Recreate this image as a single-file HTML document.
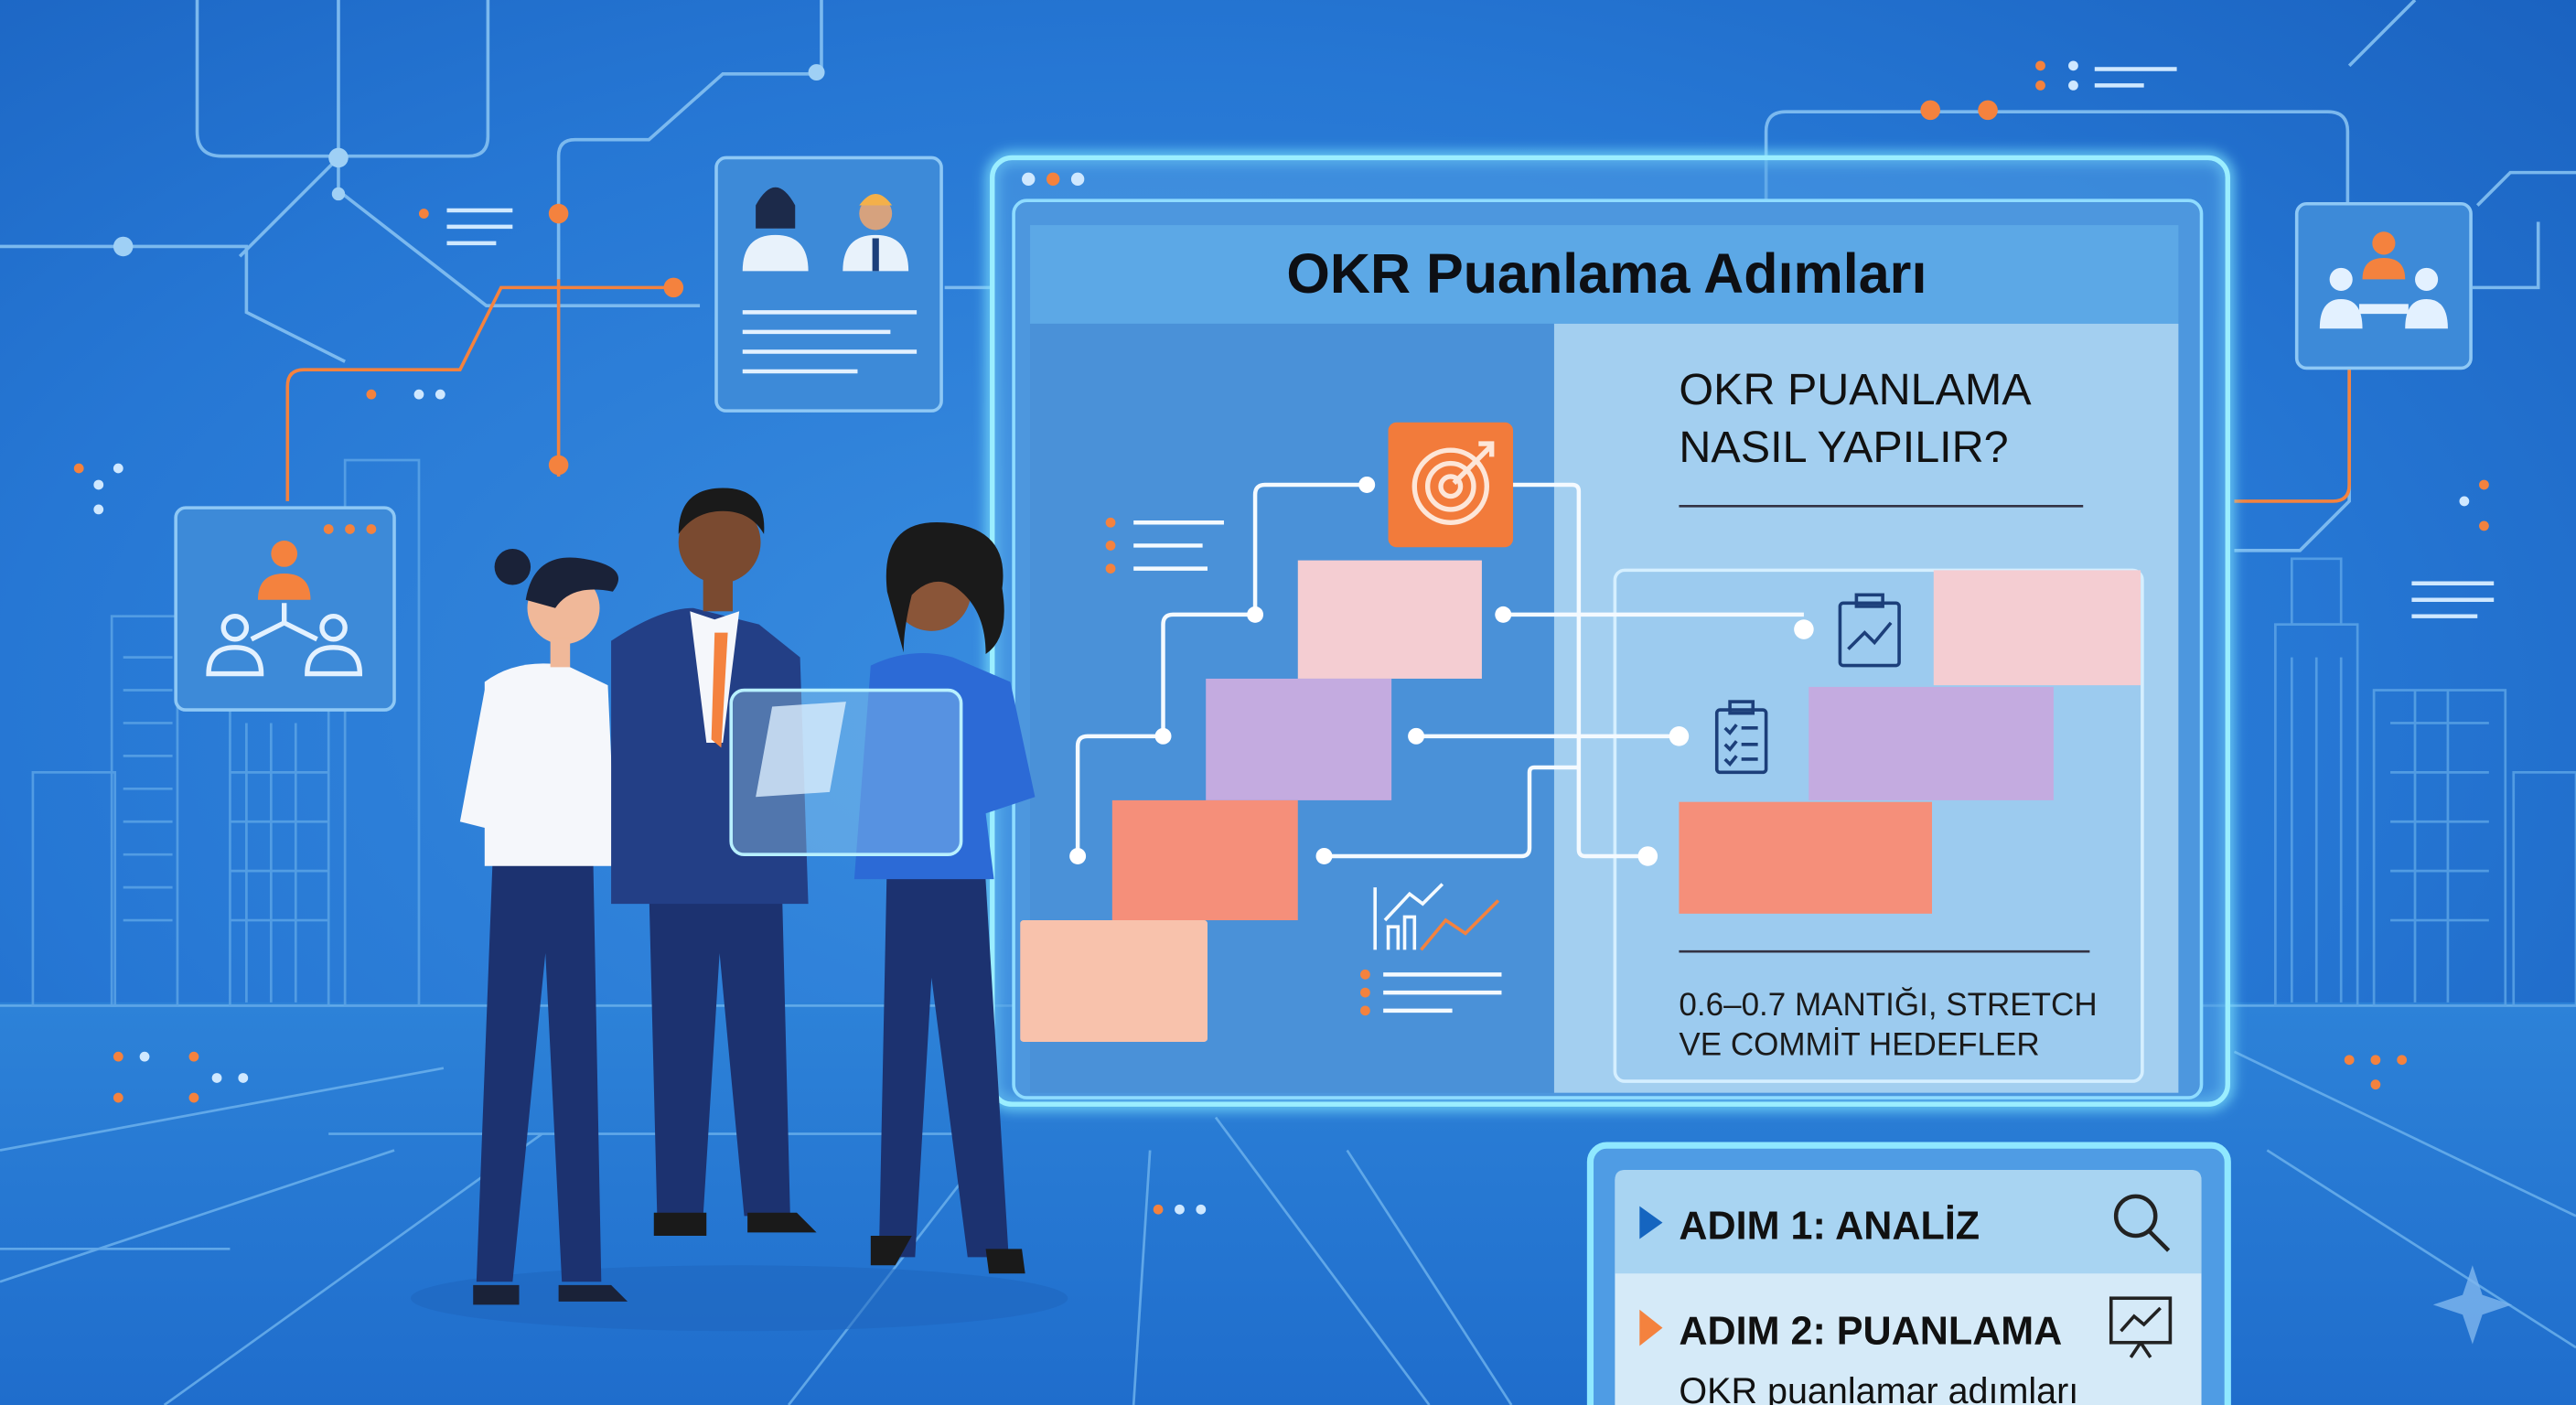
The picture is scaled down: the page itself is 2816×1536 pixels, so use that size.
<!DOCTYPE html>
<html><head><meta charset="utf-8"><style>
html,body{margin:0;padding:0;width:2816px;height:1536px;overflow:hidden;background:#1f6cc9}
svg{display:block}
text{font-family:"Liberation Sans",sans-serif}
</style></head><body>
<svg width="2816" height="1536" viewBox="0 0 1568 855" preserveAspectRatio="none" xmlns="http://www.w3.org/2000/svg">
<defs>
<radialGradient id="bg" cx="0.45" cy="0.5" r="0.75">
<stop offset="0" stop-color="#3a8ee0"/><stop offset="0.6" stop-color="#2677d4"/><stop offset="1" stop-color="#1a62c0"/>
</radialGradient>
<linearGradient id="floor" x1="0" y1="0" x2="0" y2="1"><stop offset="0" stop-color="#2d82d8"/><stop offset="1" stop-color="#1f6dcc"/></linearGradient>
<filter id="glow" x="-10%" y="-10%" width="120%" height="120%"><feGaussianBlur stdDeviation="4"/></filter>
</defs>
<rect width="1568" height="855" fill="url(#bg)"/>
<rect y="610" width="1568" height="245" fill="url(#floor)"/>
<!-- floor perspective -->
<g stroke="#6fb4ee" stroke-width="1.5" fill="none" opacity="0.8">
<line x1="0" y1="612" x2="1568" y2="612"/>
<line x1="600" y1="700" x2="480" y2="855"/><line x1="700" y1="700" x2="690" y2="855"/>
<line x1="0" y1="780" x2="240" y2="700"/><line x1="100" y1="855" x2="330" y2="690"/>
<line x1="0" y1="700" x2="270" y2="650"/><line x1="820" y1="700" x2="920" y2="855"/>
<line x1="1360" y1="640" x2="1568" y2="740"/><line x1="1380" y1="700" x2="1568" y2="820"/>
<line x1="740" y1="680" x2="870" y2="855"/><line x1="200" y1="690" x2="600" y2="690"/>
<line x1="0" y1="760" x2="140" y2="760"/>
</g>
<!-- buildings -->
<g stroke="#5aa3e6" stroke-width="1.5" fill="none" opacity="0.85">
<rect x="68" y="375" width="40" height="237"/><rect x="140" y="420" width="60" height="192"/>
<rect x="210" y="280" width="45" height="332"/><rect x="20" y="470" width="50" height="142"/>
<path d="M75 400h30M75 420h30M75 440h30M75 460h30M75 480h30M75 500h30M75 520h30M75 540h30M75 560h30"/>
<path d="M150 440v170M165 440v170M180 440v170M140 470h60M140 500h60M140 530h60M140 560h60"/>
<rect x="1385" y="380" width="50" height="232"/><rect x="1395" y="340" width="30" height="40"/>
<rect x="1445" y="420" width="80" height="192"/><rect x="1530" y="470" width="38" height="142"/>
<path d="M1395 400v210M1410 400v210M1425 400v210M1455 440h60M1455 470h60M1455 500h60M1455 530h60M1455 560h60M1470 420v190M1490 420v190"/>
</g>
<!-- circuit lines -->
<g stroke="#85c1f2" stroke-width="2" fill="none" opacity="0.9">
<path d="M120 0v80q0 15 15 15h150q12 0 12-12V0"/>
<path d="M0 150h150v40l60 30"/><path d="M206 0v96l-60 60M206 96v20l90 70h130"/>
<path d="M340 170V95q0-10 10-10h45l45-40h60V0"/><path d="M575 175h30"/>
<path d="M1075 130V80q0-12 12-12h330q12 0 12 12v60"/><path d="M1505 175h40v-40M1430 225v80l-30 30h-40"/>
<path d="M1568 105h-40l-20 20"/><path d="M1470 0l-40 40"/>
</g>
<g stroke="#f4823e" stroke-width="2" fill="none">
<path d="M175 305V235q0-10 10-10h95l25-50h105"/><path d="M340 170V290"/><path d="M1360 305h60q10 0 10-10v-70"/>
</g>
<g fill="#f4823e"><circle cx="340" cy="130" r="6"/><circle cx="410" cy="175" r="6"/><circle cx="340" cy="283" r="6"/><circle cx="1175" cy="67" r="6"/><circle cx="1210" cy="67" r="6"/></g>
<g fill="#9fd0f5"><circle cx="206" cy="96" r="6"/><circle cx="206" cy="118" r="4"/><circle cx="75" cy="150" r="6"/><circle cx="497" cy="44" r="5"/></g>
<!-- small dot decorations -->
<g fill="#f4823e"><circle cx="258" cy="130" r="3"/><circle cx="226" cy="240" r="3"/><circle cx="48" cy="285" r="3"/><circle cx="72" cy="643" r="3"/><circle cx="118" cy="643" r="3"/><circle cx="72" cy="668" r="3"/><circle cx="118" cy="668" r="3"/><circle cx="705" cy="736" r="3"/><circle cx="1242" cy="40" r="3"/><circle cx="1242" cy="52" r="3"/><circle cx="1430" cy="645" r="3"/><circle cx="1446" cy="645" r="3"/><circle cx="1462" cy="645" r="3"/><circle cx="1446" cy="660" r="3"/><circle cx="1512" cy="295" r="3"/><circle cx="1512" cy="320" r="3"/></g>
<g fill="#cfe8ff"><circle cx="255" cy="240" r="3"/><circle cx="268" cy="240" r="3"/><circle cx="88" cy="643" r="3"/><circle cx="132" cy="656" r="3"/><circle cx="148" cy="656" r="3"/><circle cx="60" cy="295" r="3"/><circle cx="72" cy="285" r="3"/><circle cx="60" cy="310" r="3"/><circle cx="1262" cy="40" r="3"/><circle cx="1262" cy="52" r="3"/><circle cx="1500" cy="305" r="3"/><circle cx="718" cy="736" r="3"/><circle cx="731" cy="736" r="3"/></g>
<g stroke="#cfe8ff" stroke-width="2.5"><path d="M272 128h40M272 138h40M272 148h30M1275 42h50M1275 52h30M1468 355h50M1468 365h50M1468 375h40"/></g>

<!-- left cards -->
<rect x="436" y="96" width="137" height="154" rx="6" fill="#3d8ad8" stroke="#8ec8f5" stroke-width="2"/>
<g><circle cx="472" cy="128" r="11" fill="#c98a6a"/><path d="M460 125q12-22 24 0v14h-24z" fill="#1c2a4a"/><path d="M452 165q0-22 20-22t20 22z" fill="#e8f2fb"/>
<circle cx="533" cy="130" r="10" fill="#d6a27e"/><path d="M523 125q10-14 20 0" fill="#f3b04a"/><path d="M513 165q0-22 20-22t20 22z" fill="#e8f2fb"/><path d="M531 145h4v20h-4z" fill="#1c3f7a"/></g>
<g stroke="#e3f1ff" stroke-width="2.5"><path d="M452 190h106M452 202h90M452 214h106M452 226h70"/></g>
<rect x="107" y="309" width="133" height="123" rx="6" fill="#3d8ad8" stroke="#8ec8f5" stroke-width="2"/>
<g fill="#f4823e"><circle cx="173" cy="337" r="8"/><path d="M157 365q0-16 16-16t16 16z"/><circle cx="200" cy="322" r="3"/><circle cx="213" cy="322" r="3"/><circle cx="226" cy="322" r="3"/></g>
<g stroke="#e3f1ff" stroke-width="3" fill="none"><circle cx="143" cy="382" r="7"/><path d="M127 410q0-16 16-16t16 16z"/><circle cx="203" cy="382" r="7"/><path d="M187 410q0-16 16-16t16 16z"/><path d="M173 367v12l-20 10M173 379l20 10"/></g>
<rect x="1398" y="124" width="106" height="100" rx="6" fill="#3d8ad8" stroke="#8ec8f5" stroke-width="2"/>
<g><circle cx="1451" cy="148" r="7" fill="#f4823e"/><path d="M1438 170q0-13 13-13t13 13z" fill="#f4823e"/><circle cx="1425" cy="170" r="7" fill="#e3f1ff"/><path d="M1412 200q0-18 13-18t13 18z" fill="#e3f1ff"/><circle cx="1477" cy="170" r="7" fill="#e3f1ff"/><path d="M1464 200q0-18 13-18t13 18z" fill="#e3f1ff"/><rect x="1436" y="185" width="30" height="6" fill="#e3f1ff"/></g>

<!-- main panel -->
<rect x="604" y="96" width="752" height="576" rx="12" fill="none" stroke="#7fe6ff" stroke-width="6" filter="url(#glow)"/>
<rect x="604" y="96" width="752" height="576" rx="12" fill="#4f9ce4" fill-opacity="0.55" stroke="#9beeff" stroke-width="3"/>
<circle cx="626" cy="109" r="4" fill="#cfe8ff"/><circle cx="641" cy="109" r="4" fill="#f4823e"/><circle cx="656" cy="109" r="4" fill="#cfe8ff"/>
<rect x="617" y="122" width="723" height="546" rx="8" fill="#4d97de" stroke="#8fdcff" stroke-width="2"/>
<rect x="627" y="137" width="699" height="60" fill="#5ca8e6"/>
<text x="978" y="178" text-anchor="middle" font-size="34" font-weight="bold" fill="#0d0f14">OKR Puanlama Adımları</text>
<rect x="627" y="197" width="319" height="468" fill="#4a91d8"/>
<rect x="946" y="197" width="380" height="468" fill="#a3cff0"/>
<text x="1022" y="246" font-size="27" fill="#111">OKR PUANLAMA</text>
<text x="1022" y="281" font-size="27" fill="#111">NASIL YAPILIR?</text>
<line x1="1022" y1="308" x2="1268" y2="308" stroke="#334" stroke-width="1.5"/>
<rect x="983" y="347" width="321" height="311" rx="6" fill="#9ccbef" stroke="#d5efff" stroke-width="2"/>
<!-- connectors -->
<g stroke="#f4faff" stroke-width="2.5" fill="none">
<path d="M832 295h-62q-6 0-6 6v73"/><path d="M764 374h-50q-6 0-6 6v68"/><path d="M708 448h-46q-6 0-6 6v67"/>
<path d="M921 295h36q4 0 4 4v218q0 4 4 4h40"/><path d="M915 374h183"/><path d="M862 448h160"/>
<path d="M806 521h120q5 0 5-5v-46q0-3 3-3h28"/>
</g>
<g fill="#ffffff"><circle cx="832" cy="295" r="5"/><circle cx="764" cy="374" r="5"/><circle cx="915" cy="374" r="5"/><circle cx="708" cy="448" r="5"/><circle cx="862" cy="448" r="5"/><circle cx="656" cy="521" r="5"/><circle cx="806" cy="521" r="5"/><circle cx="1098" cy="383" r="6"/><circle cx="1022" cy="448" r="6"/><circle cx="1003" cy="521" r="6"/></g>
<!-- stairs -->
<rect x="790" y="341" width="112" height="72" fill="#f4cdd2"/>
<rect x="734" y="413" width="113" height="74" fill="#c4abe0"/>
<rect x="677" y="487" width="113" height="73" fill="#f58f7a"/>
<rect x="621" y="560" width="114" height="74" rx="2" fill="#f8c2ac"/>
<rect x="845" y="257" width="76" height="76" rx="5" fill="#f27b3b"/>
<g stroke="#fde6d8" stroke-width="3" fill="none"><circle cx="883" cy="296" r="22"/><circle cx="883" cy="296" r="14"/><circle cx="883" cy="296" r="6"/><path d="M885 294l22-22M900 270l8 0 0 8"/></g>
<rect x="1177" y="347" width="126" height="70" fill="#f4cdd2"/>
<rect x="1101" y="418" width="149" height="69" fill="#c4abe0"/>
<rect x="1022" y="488" width="154" height="68" fill="#f58f7a"/>
<!-- icons -->
<g stroke="#1c3f7a" stroke-width="2" fill="none"><rect x="1120" y="367" width="36" height="38" rx="2"/><rect x="1130" y="362" width="16" height="7"/><path d="M1125 395l10-10 6 6 10-12"/>
<rect x="1045" y="432" width="30" height="38" rx="2"/><rect x="1053" y="427" width="14" height="7"/><path d="M1050 443l3 3 4-5M1060 443h10M1050 453l3 3 4-5M1060 453h10M1050 462l3 3 4-5M1060 462h10"/></g>
<g stroke="#f4faff" stroke-width="2" fill="none"><path d="M837 540v38M845 578v-14h6v14M855 578v-20h6v20M843 560l15-16 8 6 12-12"/></g>
<path d="M865 578l15-18 12 8 20-20" stroke="#f4823e" stroke-width="2" fill="none"/>
<g fill="#f4823e"><circle cx="831" cy="593" r="3"/><circle cx="831" cy="604" r="3"/><circle cx="831" cy="615" r="3"/><circle cx="676" cy="318" r="3"/><circle cx="676" cy="332" r="3"/><circle cx="676" cy="346" r="3"/></g>
<g stroke="#f4faff" stroke-width="2.5"><path d="M842 593h72M842 604h72M842 615h42M690 318h55M690 332h42M690 346h45"/></g>
<line x1="1022" y1="579" x2="1272" y2="579" stroke="#334" stroke-width="1.5"/>
<text x="1022" y="618" font-size="19.5" fill="#1a1a1a">0.6–0.7 MANTIĞI, STRETCH</text>
<text x="1022" y="642" font-size="19.5" fill="#1a1a1a">VE COMMİT HEDEFLER</text>

<!-- bottom panel -->
<rect x="968" y="697" width="388" height="170" rx="10" fill="#4f9ce4" stroke="#8fe8ff" stroke-width="4"/>
<rect x="983" y="712" width="357" height="150" rx="6" fill="#d5eaf8"/>
<path d="M989 712h345q6 0 6 6v57h-357v-57q0-6 6-6z" fill="#a8d4f2"/>
<path d="M998 734l14 10-14 10z" fill="#1565c0"/>
<text x="1022" y="754" font-size="24" font-weight="bold" fill="#111">ADIM 1: ANALİZ</text>
<g stroke="#222" stroke-width="2.5" fill="none"><circle cx="1300" cy="740" r="12"/><path d="M1308 749l12 12"/></g>
<path d="M998 797l14 11-14 11z" fill="#f4823e"/>
<text x="1022" y="818" font-size="24" font-weight="bold" fill="#111">ADIM 2: PUANLAMA</text>
<g stroke="#222" stroke-width="2" fill="none"><rect x="1285" y="790" width="36" height="27"/><path d="M1291 810l8-9 6 5 10-10M1303 817l-6 9M1303 817l6 9"/></g>
<text x="1022" y="854" font-size="22" fill="#111">OKR puanlamar adımları</text>

<!-- people -->
<ellipse cx="450" cy="790" rx="200" ry="20" fill="#1e63bb" opacity="0.5"/>
<!-- woman left -->
<g>
<path d="M300 520l-10 260h22l20-200 10 200h24l-5-260z" fill="#1c3270"/>
<path d="M295 415q20-15 50-10l25 12 5 110h-80z" fill="#f5f7fb"/>
<path d="M295 420l-15 80 20 5 15-60z" fill="#f5f7fb"/>
<circle cx="343" cy="370" r="22" fill="#f0b899"/>
<path d="M320 365q5-30 35-25t18 20q-25-5-35 10z" fill="#1a2238"/><circle cx="312" cy="345" r="11" fill="#1a2238"/>
<rect x="335" y="388" width="12" height="18" fill="#f0b899"/>
<path d="M375 508l40-20 35 5-40 22z" fill="#9fc8ef"/>
<path d="M288 782h28v12h-28zM340 782h32l10 10h-42z" fill="#1a2238"/>
</g>
<!-- man -->
<g>
<path d="M395 540l5 200h28l10-160 15 160h28l-5-200z" fill="#1c3270"/>
<path d="M372 390q30-20 50-20l40 10 25 20 5 150h-120z" fill="#233f86"/>
<path d="M420 372l15 5 15-5-10 80h-10z" fill="#f5f7fb"/>
<path d="M435 385l8 0-4 70-6-5z" fill="#f4823e"/>
<circle cx="438" cy="330" r="25" fill="#7a4a30"/>
<path d="M413 325q0-28 27-28t25 28q-8-14-25-14t-27 14z" fill="#1a1a1a"/>
<rect x="428" y="352" width="18" height="20" fill="#7a4a30"/>
<path d="M398 738h32v14h-32zM455 738h30l12 12h-42z" fill="#1a1a1a"/>
</g>
<!-- woman right -->
<g>
<path d="M540 520l-5 245h22l10-170 22 170h25l-15-245z" fill="#1c3270"/>
<path d="M530 405q25-12 50-5l35 15 15 70-30 10 5 40h-85z" fill="#2c6ad6"/>
<circle cx="567" cy="360" r="24" fill="#8a5538"/>
<path d="M540 360q-5-45 35-42t35 40q5 30-10 40 0-25-15-38t-30 2q-5 20-5 35z" fill="#1a1a1a"/>
<path d="M530 752h25l-10 18h-15zM600 760h22l2 15h-22z" fill="#1a1a1a"/>
</g>
<rect x="445" y="420" width="140" height="100" rx="8" fill="#a9dcf7" fill-opacity="0.35" stroke="#b8f0ff" stroke-width="2"/>
<path d="M470 430l45-3-10 55-45 3z" fill="#dbeefc" opacity="0.8"/>
<path d="M1505 770l6 18 18 6-18 6-6 18-6-18-18-6 18-6z" fill="#7fb7ee" opacity="0.8"/>
</svg>
</body></html>
